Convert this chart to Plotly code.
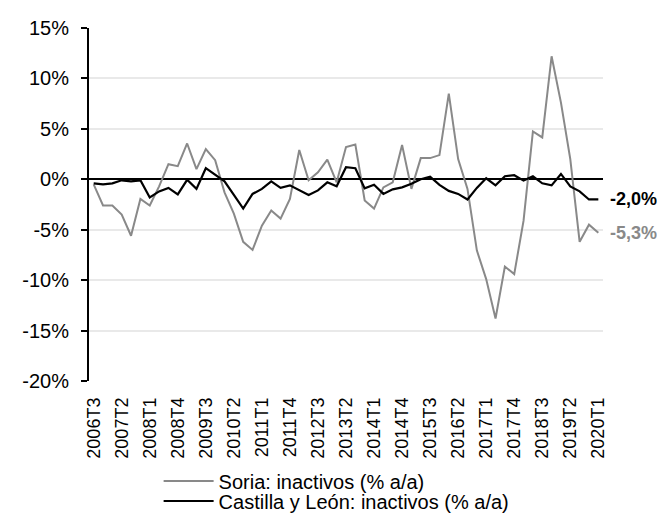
import plotly.graph_objects as go

quarters = [
    "2006T3", "2006T4",
    "2007T1", "2007T2", "2007T3", "2007T4",
    "2008T1", "2008T2", "2008T3", "2008T4",
    "2009T1", "2009T2", "2009T3", "2009T4",
    "2010T1", "2010T2", "2010T3", "2010T4",
    "2011T1", "2011T2", "2011T3", "2011T4",
    "2012T1", "2012T2", "2012T3", "2012T4",
    "2013T1", "2013T2", "2013T3", "2013T4",
    "2014T1", "2014T2", "2014T3", "2014T4",
    "2015T1", "2015T2", "2015T3", "2015T4",
    "2016T1", "2016T2", "2016T3", "2016T4",
    "2017T1", "2017T2", "2017T3", "2017T4",
    "2018T1", "2018T2", "2018T3", "2018T4",
    "2019T1", "2019T2", "2019T3", "2019T4",
    "2020T1",
]

soria = [
    -0.5, -2.6, -2.6, -3.5, -5.6, -1.95, -2.6, -0.7, 1.5, 1.3,
    3.55, 1.0, 3.0, 1.9, -1.3, -3.4, -6.2, -7.0, -4.6, -3.1,
    -3.9, -1.95, 2.9, -0.1, 0.7, 1.95, -0.3, 3.2, 3.45, -2.1,
    -2.9, -0.8, -0.3, 3.4, -0.95, 2.1, 2.1, 2.4, 8.5, 2.0,
    -0.95, -7.05, -9.9, -13.8, -8.65, -9.4, -4.1, 4.75, 4.15, 12.2,
    7.6, 2.0, -6.2, -4.5, -5.3,
]

castilla = [
    -0.4, -0.5, -0.4, -0.1, -0.2, -0.1, -1.8, -1.2, -0.85, -1.5,
    -0.05, -0.95, 1.1, 0.45, -0.2, -1.55, -2.9, -1.45, -0.95, -0.2,
    -0.85, -0.6, -1.05, -1.55, -1.1, -0.3, -0.7, 1.2, 1.1, -0.9,
    -0.55, -1.45, -1.0, -0.8, -0.45, 0.0, 0.25, -0.55, -1.15, -1.45,
    -2.0, -0.85, 0.1, -0.6, 0.3, 0.4, -0.13, 0.3, -0.4, -0.6,
    0.53, -0.7, -1.2, -2.0, -2.0,
]

x_ticks = [
    "2006T3", "2007T2", "2008T1", "2008T4", "2009T3", "2010T2", "2011T1",
    "2011T4", "2012T3", "2013T2", "2014T1", "2014T4", "2015T3", "2016T2",
    "2017T1", "2017T4", "2018T3", "2019T2", "2020T1",
]
y_ticks = [-20, -15, -10, -5, 0, 5, 10, 15]
y_tick_labels = ["-20%", "-15%", "-10%", "-5%", "0%", "5%", "10%", "15%"]

series_names = ["Soria: inactivos (% a/a)", "Castilla y León: inactivos (% a/a)"]

FONT = "Liberation Sans, Arial, sans-serif"
GREY = "#898989"
BLACK = "#000000"

fig = go.Figure()
fig.add_trace(go.Scatter(
    x=quarters, y=soria, mode="lines", name=series_names[0],
    line=dict(color=GREY, width=2), legend="legend", showlegend=True,
))
fig.add_trace(go.Scatter(
    x=quarters, y=castilla, mode="lines", name=series_names[1],
    line=dict(color=BLACK, width=2.2), legend="legend2", showlegend=True,
))


def fmt(v):
    return f"{v:.1f}%".replace(".", ",")


fig.add_annotation(x=quarters[-1], y=castilla[-1], text=f"<b>{fmt(castilla[-1])}</b>",
                   showarrow=False, xanchor="left", yanchor="middle", xshift=10,
                   font=dict(family=FONT, size=18, color=BLACK))
fig.add_annotation(x=quarters[-1], y=soria[-1], text=f"<b>{fmt(soria[-1])}</b>",
                   showarrow=False, xanchor="left", yanchor="middle", xshift=10,
                   font=dict(family=FONT, size=18, color=GREY))

legend_common = dict(
    orientation="v", xanchor="left", yanchor="middle",
    xref="container", yref="container",
    bgcolor="rgba(0,0,0,0)", itemwidth=50,
    font=dict(family=FONT, size=20, color="#000000"),
)

fig.update_layout(
    template="none",
    width=665, height=515,
    margin=dict(l=81, r=70, t=20, b=142, autoexpand=False),
    paper_bgcolor="white", plot_bgcolor="white",
    font=dict(family=FONT, size=20, color="#000000"),
    showlegend=True,
    legend=dict(x=0.2265, y=0.0816, **legend_common),
    legend2=dict(x=0.2265, y=0.0427, **legend_common),
    xaxis=dict(
        type="category", categoryorder="array", categoryarray=quarters,
        range=[-0.5, len(quarters) - 0.5], automargin=False,
        tickvals=x_ticks, ticktext=x_ticks, tickangle=-90,
        showgrid=False, showline=False, ticks="", zeroline=False,
        tickfont=dict(family=FONT, size=18, color="#000000"),
        ticklabelstandoff=12,
    ),
    yaxis=dict(
        range=[-20, 15], tickvals=y_ticks, ticktext=y_tick_labels,
        automargin=False,
        showgrid=True, gridcolor="#e9e9e9", gridwidth=2,
        zeroline=True, zerolinecolor="#000000", zerolinewidth=2,
        showline=True, linecolor="#000000", linewidth=2,
        ticks="outside", ticklen=6, tickwidth=2, tickcolor="#000000",
        tickfont=dict(family=FONT, size=20, color="#000000"),
        ticklabelstandoff=8,
    ),
)

fig.write_html("out.html")
